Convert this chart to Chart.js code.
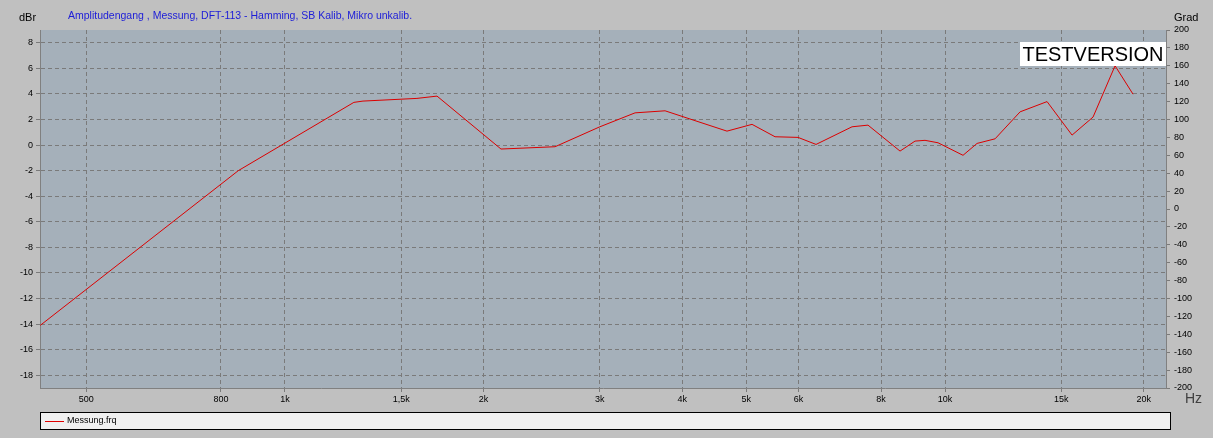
<!DOCTYPE html>
<html>
<head>
<meta charset="utf-8">
<script src="https://cdn.jsdelivr.net/npm/chart.js@4/dist/chart.umd.min.js"></script>
<style>
    html, body { margin: 0; padding: 0; background: #c0c0c0; }
    #wrap { position: relative; width: 1213px; height: 438px; }
</style>
</head>
<body>
<div id="wrap"><canvas id="freqChart" width="1213" height="438"></canvas></div>
<script>
const freqHz = [426, 850, 1272, 1313, 1585, 1700, 2125, 2566, 3000, 3392, 3766, 4674, 5101,
    5527, 5989, 6377, 7230, 7644, 8548, 9006, 9326, 9759, 10648, 11183, 11909, 12994,
    14275, 15575, 16758, 18096, 19266];
const levelDb = [-14.1, -2.0, 3.34, 3.44, 3.65, 3.83, -0.31, -0.13, 1.43, 2.52, 2.68, 1.09, 1.62,
    0.65, 0.60, 0.05, 1.43, 1.56, -0.47, 0.31, 0.37, 0.18, -0.80, 0.13, 0.49, 2.60,
    3.40, 0.78, 2.19, 6.20, 3.98];

// Achsen
const xTicks = [500, 800, 1000, 1500, 2000, 3000, 4000, 5000, 6000, 8000, 10000, 15000, 20000];
const xTickLabels = ['500', '800', '1k', '1,5k', '2k', '3k', '4k', '5k', '6k', '8k', '10k', '15k', '20k'];
const dbTicks = [-18, -16, -14, -12, -10, -8, -6, -4, -2, 0, 2, 4, 6, 8];
const gradTicks = [-200, -180, -160, -140, -120, -100, -80, -60, -40, -20, 0, 20, 40, 60, 80, 100, 120, 140, 160, 180, 200];

const titleText = 'Amplitudengang , Messung, DFT-113 - Hamming, SB Kalib, Mikro unkalib.';
const FONT = '"Liberation Sans", Arial, sans-serif';

// Hintergrund, Beschriftung, Legende
const decoPlugin = {
    id: 'deco',
    beforeDraw(chart) {
        const { ctx, chartArea: a } = chart;
        ctx.save();
        ctx.fillStyle = '#c0c0c0';
        ctx.fillRect(0, 0, chart.width, chart.height);
        ctx.fillStyle = '#a5b0ba';
        ctx.fillRect(a.left, a.top, a.right - a.left, a.bottom - a.top);
        ctx.restore();
    },
    afterDraw(chart) {
        const { ctx } = chart;
        ctx.save();
        ctx.textBaseline = 'middle';

        ctx.font = '10.5px ' + FONT;
        ctx.fillStyle = '#1c1cd8';
        ctx.fillText(titleText, 68, 16);

        ctx.font = '11px ' + FONT;
        ctx.fillStyle = '#000';
        ctx.fillText('dBr', 19, 18);
        ctx.fillText('Grad', 1174, 18);

        ctx.font = '14px ' + FONT;
        ctx.fillStyle = '#404040';
        ctx.fillText('Hz', 1185, 399);

        // TESTVERSION
        ctx.fillStyle = '#fff';
        ctx.fillRect(1020, 42, 146, 24);
        ctx.font = '20px ' + FONT;
        ctx.fillStyle = '#000';
        ctx.textAlign = 'center';
        ctx.fillText('TESTVERSION', 1093, 55);
        ctx.textAlign = 'left';

        // Legende
        ctx.fillStyle = '#f0f0f0';
        ctx.fillRect(40.5, 412.5, 1130, 17);
        ctx.strokeStyle = '#000';
        ctx.lineWidth = 1;
        ctx.setLineDash([]);
        ctx.strokeRect(40.5, 412.5, 1130, 17);
        ctx.strokeStyle = '#e00000';
        ctx.beginPath();
        ctx.moveTo(45, 421.5);
        ctx.lineTo(64, 421.5);
        ctx.stroke();
        ctx.font = '9px ' + FONT;
        ctx.fillStyle = '#000';
        ctx.fillText(chart.data.datasets[0].label, 67, 421);
        ctx.restore();
    }
};

const tickFont = { family: FONT, size: 9 };

new Chart(document.getElementById('freqChart'), {
    type: 'scatter',
    data: {
        datasets: [{
            label: 'Messung.frq',
            data: freqHz.map((f, i) => ({ x: f, y: levelDb[i] })),
            showLine: true,
            borderColor: '#dc0000',
            borderWidth: 1,
            pointRadius: 0,
            tension: 0,
            yAxisID: 'y'
        }]
    },
    options: {
        responsive: false,
        animation: false,
        layout: { padding: { top: 30, left: 0, right: 0, bottom: 0 } },
        plugins: {
            legend: { display: false },
            tooltip: { enabled: false }
        },
        scales: {
            x: {
                type: 'logarithmic',
                min: 425.6,
                max: 21615,
                afterBuildTicks: (s) => { s.ticks = xTicks.map(v => ({ value: v })); },
                afterFit: (s) => { s.height = 50; },
                ticks: {
                    autoSkip: false,
                    maxRotation: 0,
                    padding: 2,
                    color: '#000',
                    font: tickFont,
                    callback: (v, i) => xTickLabels[i]
                },
                grid: {
                    color: '#7a7a7a',
                    tickLength: 4,
                    tickBorderDash: [],
                    tickColor: '#7a7a7a'
                },
                border: { color: '#808080', width: 1, dash: [4, 3] }
            },
            y: {
                position: 'left',
                min: -19,
                max: 9,
                afterBuildTicks: (s) => { s.ticks = dbTicks.map(v => ({ value: v })); },
                afterFit: (s) => { s.width = 40; },
                ticks: { padding: 3, color: '#000', font: tickFont },
                grid: {
                    color: '#7a7a7a',
                    tickLength: 4,
                    tickBorderDash: [],
                    tickColor: '#7a7a7a'
                },
                border: { color: '#808080', width: 1, dash: [4, 3] }
            },
            y2: {
                position: 'right',
                min: -200,
                max: 200,
                afterBuildTicks: (s) => { s.ticks = gradTicks.map(v => ({ value: v })); },
                afterFit: (s) => { s.width = 47; },
                ticks: { padding: 4, color: '#000', font: tickFont },
                grid: {
                    drawOnChartArea: false,
                    tickLength: 4,
                    tickColor: '#7a7a7a'
                },
                border: { color: '#808080', width: 1 }
            }
        }
    },
    plugins: [decoPlugin]
});
</script>
</body>
</html>
